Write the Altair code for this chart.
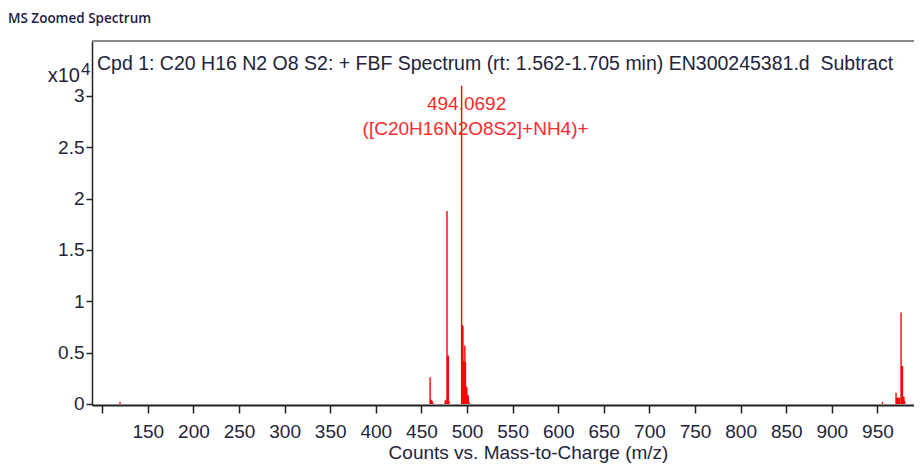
import altair as alt
import pandas as pd

# ---- data (m/z, counts) ----
mz = [119.5,
      459.5, 460.3, 461.0, 461.8, 462.5,
      476.0, 476.7, 478.05, 478.8, 479.5, 480.2,
      494.0692, 494.8, 495.5, 496.2, 496.9, 497.6, 498.3, 499.0, 499.8, 500.6, 501.4, 502.2,
      955.4, 970.4, 971.2, 971.9, 972.7, 973.5, 974.3, 975.9, 976.6, 977.4, 978.2, 979.0, 979.8]
intensity = [200,
             2600, 400, 400, 300, 100,
             300, 400, 18800, 4700, 4700, 300,
             31000, 7700, 7600, 4200, 4000, 5700, 4100, 1700, 1600, 900, 800, 200,
             200, 1100, 600, 600, 600, 600, 600, 8900, 3700, 3700, 700, 700, 300]

x_ticks = [100, 150, 200, 250, 300, 350, 400, 450, 500, 550, 600, 650, 700, 750, 800, 850, 900, 950]
y_ticks = [0, 5000, 10000, 15000, 20000, 25000, 30000]

label_mz = [494.0692]
label_int = [31000]
label_mass = ["494.0692"]
label_ion = ["([C20H16N2O8S2]+NH4)+"]

title_text = ["MS Zoomed Spectrum"]
cpd_text = ["Cpd 1: C20 H16 N2 O8 S2: + FBF Spectrum (rt: 1.562-1.705 min) EN300245381.d\u00a0 Subtract"]

W, H = 822, 364
FONT = "Liberation Sans"
TXT = "#23233c"

peaks = pd.DataFrame({"mz": mz, "intensity": intensity})
xs = alt.Scale(domain=[88.8, 990.1], nice=False, zero=False)
ys = alt.Scale(domain=[-100, 35350], nice=False, zero=False)

sticks = alt.Chart(peaks).mark_rule(color="#ff0000", strokeWidth=1.4).encode(
    x=alt.X("mz:Q", scale=xs, axis=alt.Axis(
        values=x_ticks, labelExpr="datum.value == 100 ? '' : datum.label",
        title="Counts vs. Mass-to-Charge (m/z)", titleX=436, titleY=53,
        titleBaseline="alphabetic", titleAlign="center", titleAnchor="start",
        tickSize=8, labelPadding=9, domainWidth=2, tickWidth=1.5, grid=False)),
    y=alt.Y("intensity:Q", scale=ys, axis=alt.Axis(
        values=y_ticks, labelExpr="'' + (datum.value / 10000)", title=None,
        tickSize=6, labelPadding=2, domainWidth=1.5, tickWidth=1.5, grid=False)),
    y2=alt.datum(0),
)

top_border = alt.Chart(pd.DataFrame({"a": [0]})).mark_rule(color="#666666", strokeWidth=1.5).encode(
    x=alt.value(0), x2=alt.value(W), y=alt.value(0))

ann = pd.DataFrame({"mz": label_mz, "intensity": label_int, "mass": label_mass, "ion": label_ion})
ann1 = alt.Chart(ann).mark_text(color="#ff2a2a", font=FONT, fontSize=19, dx=5, dy=24,
                                baseline="alphabetic", align="center").encode(
    x=alt.X("mz:Q", scale=xs), y=alt.Y("intensity:Q", scale=ys), text="mass:N")
ann2 = alt.Chart(ann).mark_text(color="#ff2a2a", font=FONT, fontSize=19, dx=14, dy=49,
                                baseline="alphabetic", align="center").encode(
    x=alt.X("mz:Q", scale=xs), y=alt.Y("intensity:Q", scale=ys), text="ion:N")

title = alt.Chart(pd.DataFrame({"t": title_text})).mark_text(
    font="Open Sans", fontSize=13.5, fontWeight=600, color="#1c1c48", align="left",
    baseline="alphabetic").encode(x=alt.value(-84), y=alt.value(-18), text="t:N")

cpd = alt.Chart(pd.DataFrame({"t": cpd_text})).mark_text(
    font=FONT, fontSize=19.5, color=TXT, align="left", baseline="alphabetic").encode(
    x=alt.value(5), y=alt.value(29), text="t:N")

x10 = alt.Chart(pd.DataFrame({"t": ["x10"]})).mark_text(
    font=FONT, fontSize=20, color=TXT, align="right", baseline="alphabetic").encode(
    x=alt.value(-12), y=alt.value(41), text="t:N")
sup = alt.Chart(pd.DataFrame({"t": ["4"]})).mark_text(
    font=FONT, fontSize=17, color=TXT, align="left", baseline="alphabetic").encode(
    x=alt.value(-11), y=alt.value(34), text="t:N")

chart = alt.layer(sticks, top_border, ann1, ann2, title, cpd, x10, sup).properties(
    width=W, height=H,
    autosize=alt.AutoSizeParams(type="none"),
    padding={"left": 84, "top": 33, "right": 0, "bottom": 60},
).configure_view(stroke=None).configure_axis(
    labelFont=FONT, labelFontSize=19, labelColor=TXT,
    titleFont=FONT, titleFontSize=19, titleFontWeight="normal", titleColor=TXT,
    domainColor="#222222", tickColor="#222222",
)

chart.save("out.html", embed_options={"renderer": "svg", "actions": False})
